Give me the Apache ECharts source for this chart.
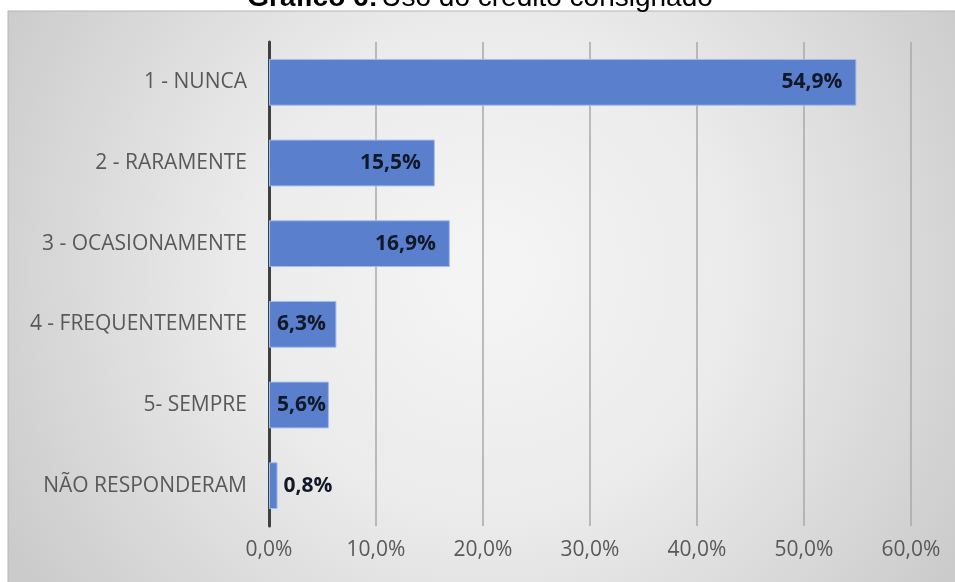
<!DOCTYPE html>
<html>
<head>
<meta charset="utf-8">
<title>Gráfico 6: Uso do crédito consignado</title>
<script src="https://cdn.jsdelivr.net/npm/echarts@6/dist/echarts.min.js"></script>
<style>
  html, body { margin: 0; padding: 0; background: #ffffff; }
  #chart { width: 955px; height: 582px; }
</style>
</head>
<body>
<div id="chart"></div>
<script>
// Categories (top to bottom) and share of respondents, in percent
const categories = [
  '1 - NUNCA',
  '2 - RARAMENTE',
  '3 - OCASIONAMENTE',
  '4 - FREQUENTEMENTE',
  '5- SEMPRE',
  'NÃO RESPONDERAM'
];
const values = [54.9, 15.5, 16.9, 6.3, 5.6, 0.8];
const tickValues = [0, 10, 20, 30, 40, 50, 60];

const fmtPct = v => v.toFixed(1).replace('.', ',') + '%';
const uiFont = '"Open Sans", Lato, sans-serif';

// Short bars cannot hold their label inside the end, so place it from the base or beyond
function labelFor(v) {
  if (v >= 10) return { position: 'insideRight', distance: 14 };
  if (v >= 3) return { position: 'insideLeft', distance: 8 };
  return { position: 'right', distance: 6 };
}

const chart = echarts.init(document.getElementById('chart'));

chart.setOption({
  backgroundColor: '#ffffff',
  animation: false,
  graphic: [
    {
      type: 'rect',
      z: -10,
      silent: true,
      shape: { x: 8, y: 11, width: 960, height: 580 },
      style: {
        fill: {
          type: 'radial', x: 0.5, y: 0.45, r: 0.95,
          colorStops: [
            { offset: 0, color: '#f5f5f5' },
            { offset: 0.45, color: '#ebebeb' },
            { offset: 1, color: '#cbcbcb' }
          ]
        },
        stroke: '#b5b5b5',
        lineWidth: 1
      }
    },
    {
      type: 'text',
      z: -5,
      silent: true,
      x: 480,
      y: -2,
      style: {
        text: '{b|Gráfico 6:} {n|Uso do crédito consignado}',
        align: 'center',
        verticalAlign: 'middle',
        rich: {
          b: { fontFamily: 'Liberation Sans, Arial, sans-serif', fontSize: 28, fontWeight: 'bold', fill: '#000000' },
          n: { fontFamily: 'Liberation Sans, Arial, sans-serif', fontSize: 28, fill: '#000000' }
        }
      }
    }
  ],
  grid: { left: 269, right: 44, top: 42, bottom: 56, containLabel: false },
  xAxis: {
    type: 'value',
    min: tickValues[0],
    max: tickValues[tickValues.length - 1],
    interval: 10,
    axisLine: { show: false },
    axisTick: { show: false },
    splitLine: { show: true, lineStyle: { color: '#a8a8a8', width: 1.5 } },
    axisLabel: {
      formatter: v => fmtPct(v),
      color: '#595959',
      fontFamily: uiFont,
      fontSize: 21,
      margin: 14
    }
  },
  yAxis: {
    type: 'category',
    data: categories,
    inverse: true,
    axisLine: { show: true, lineStyle: { color: '#404040', width: 3 } },
    axisTick: { show: false },
    splitLine: { show: false },
    axisLabel: {
      color: '#595959',
      fontFamily: uiFont,
      fontSize: 21,
      margin: 22
    }
  },
  series: [
    {
      type: 'bar',
      barWidth: '58%',
      data: values.map(v => ({ value: v, label: labelFor(v) })),
      itemStyle: {
        color: '#5a7fcd',
        borderColor: '#a3bdea',
        borderWidth: 1
      },
      label: {
        show: true,
        formatter: p => fmtPct(p.value),
        color: '#111827',
        fontFamily: uiFont,
        fontWeight: 'bold',
        fontSize: 21
      }
    }
  ]
});
</script>
</body>
</html>
